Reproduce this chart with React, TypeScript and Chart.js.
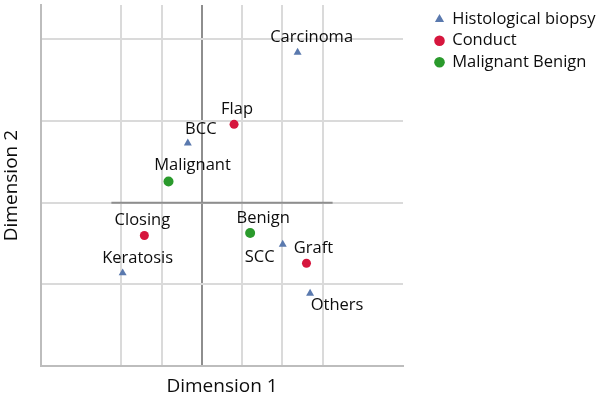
import React, { useEffect, useRef } from "react";
import { Chart, registerables } from "chart.js";

Chart.register(...registerables);

// ---- data ----
const seriesNames = ["Histological biopsy", "Conduct", "Malignant Benign"];

const biopsyNames = ["Carcinoma", "BCC", "Keratosis", "SCC", "Others"];
const biopsyX = [2.38, -0.35, -1.97, 2.01, 2.69];
const biopsyY = [1.84, 0.73, -0.86, -0.51, -1.11];

const conductNames = ["Flap", "Closing", "Graft"];
const conductX = [0.8, -1.43, 2.6];
const conductY = [0.96, -0.4, -0.74];

const malignantNames = ["Malignant", "Benign"];
const malignantX = [-0.83, 1.2];
const malignantY = [0.26, -0.37];

// horizontal reference segment through the origin
const crossX = [-2.25, 3.25];
const crossY = [0, 0];

// label offsets (pixels, label centre relative to the point)
const biopsyLabelOffsets = [[14, -15], [13, -14], [15, -15], [-23, 13], [27, 12]];
const conductLabelOffsets = [[3, -15], [-2, -15], [7, -15]];
const malignantLabelOffsets = [[24, -16], [13, -15]];

const FONT = "'Open Sans', sans-serif";

const toPoints = (xs: number[], ys: number[]) => xs.map((x, i) => ({ x, y: ys[i] }));

const pointLabelPlugin = {
  id: "pointLabels",
  afterDatasetsDraw(chart: any) {
    const ctx = chart.ctx;
    ctx.save();
    ctx.font = `16.5px ${FONT}`;
    ctx.fillStyle = "#0d0d0d";
    ctx.textAlign = "center";
    ctx.textBaseline = "middle";
    chart.data.datasets.forEach((ds: any, di: number) => {
      if (!ds.pointNames) return;
      const meta = chart.getDatasetMeta(di);
      meta.data.forEach((el: any, i: number) => {
        const off = ds.labelOffsets[i];
        ctx.fillText(ds.pointNames[i], el.x + off[0], el.y + off[1]);
      });
    });
    ctx.restore();
  },
};

const LEGEND_WIDTH = 197;
const LEGEND_SHIFT = 27;
const legendShiftPlugin = {
  id: "legendShift",
  afterInit(chart: any) {
    const lg = chart.legend;
    if (!lg || lg.__wrapped) return;
    lg.__wrapped = true;
    const origFit = lg.fit;
    lg.fit = function () {
      origFit.call(this);
      this.width = LEGEND_WIDTH;
    };
    const origDraw = lg.draw;
    lg.draw = function () {
      const l = this.left;
      const t = this.top;
      this.left = l + LEGEND_SHIFT;
      this.top = t + 1;
      origDraw.call(this);
      this.left = l;
      this.top = t;
    };
  },
};

export default function App() {
  const ref = useRef<HTMLCanvasElement>(null);

  useEffect(() => {
    document.body.style.margin = "0";
    const chart = new Chart(ref.current!, {
      type: "scatter",
      data: {
        datasets: [
          {
            label: seriesNames[0],
            data: toPoints(biopsyX, biopsyY),
            pointStyle: "triangle",
            pointRadius: 4.6,
            backgroundColor: "#5a79ae",
            borderColor: "#5a79ae",
            borderWidth: 0,
            order: 1,
            pointNames: biopsyNames,
            labelOffsets: biopsyLabelOffsets,
          } as any,
          {
            label: seriesNames[1],
            data: toPoints(conductX, conductY),
            pointStyle: "circle",
            pointRadius: 4.5,
            backgroundColor: "#d6163d",
            borderColor: "#d6163d",
            borderWidth: 0,
            order: 1,
            pointNames: conductNames,
            labelOffsets: conductLabelOffsets,
          } as any,
          {
            label: seriesNames[2],
            data: toPoints(malignantX, malignantY),
            pointStyle: "circle",
            pointRadius: 5,
            backgroundColor: "#2a9a2c",
            borderColor: "#2a9a2c",
            borderWidth: 0,
            order: 1,
            pointNames: malignantNames,
            labelOffsets: malignantLabelOffsets,
          } as any,
          {
            label: "axis",
            data: toPoints(crossX, crossY),
            showLine: true,
            borderColor: "#8e8e8e",
            borderWidth: 2,
            pointRadius: 0,
            order: 10,
          } as any,
        ],
      },
      options: {
        animation: false,
        responsive: true,
        maintainAspectRatio: false,
        layout: { padding: { top: 5, right: 0, bottom: 0, left: 0 } },
        plugins: {
          tooltip: { enabled: false },
          legend: {
            position: "right",
            align: "start",
            labels: {
              filter: (item: any) => item.datasetIndex !== 3,
              usePointStyle: true,
              boxWidth: 9,
              boxHeight: 7.5,
              padding: 5,
              color: "#0d0d0d",
              font: { family: FONT, size: 16.5 },
            },
          },
        },
        scales: {
          x: {
            type: "linear",
            min: -4,
            max: 5,
            ticks: { display: false, stepSize: 1 },
            grid: {
              drawTicks: false,
              lineWidth: 2,
              color: (c: any) => {
                const v = c.tick && c.tick.value;
                if (v === 0) return "#8e8e8e";
                if (v === -3 || v === 4 || v === 5) return "rgba(0,0,0,0)";
                return "#dadada";
              },
            },
            border: { display: true, color: "#bdbdbd", width: 2 },
            title: {
              display: true,
              text: "Dimension 1",
              color: "#0d0d0d",
              font: { family: FONT, size: 19 },
              padding: { top: 9, bottom: 0 },
            },
          },
          y: {
            type: "linear",
            min: -2,
            max: 2.42,
            ticks: { display: false, stepSize: 1 },
            grid: {
              drawTicks: false,
              lineWidth: 2,
              color: (c: any) => {
                const v = c.tick && c.tick.value;
                if (!Number.isInteger(v)) return "rgba(0,0,0,0)";
                return "#dadada";
              },
            },
            border: { display: true, color: "#bdbdbd", width: 2 },
            title: {
              display: true,
              text: "Dimension 2",
              color: "#0d0d0d",
              font: { family: FONT, size: 19 },
              padding: { top: 0.6, bottom: 17.6 },
            },
          },
        },
      },
      plugins: [pointLabelPlugin, legendShiftPlugin],
    } as any);
    return () => chart.destroy();
  }, []);

  return (
    <div style={{ width: 600, height: 398, position: "relative" }}>
      <canvas ref={ref} />
    </div>
  );
}
